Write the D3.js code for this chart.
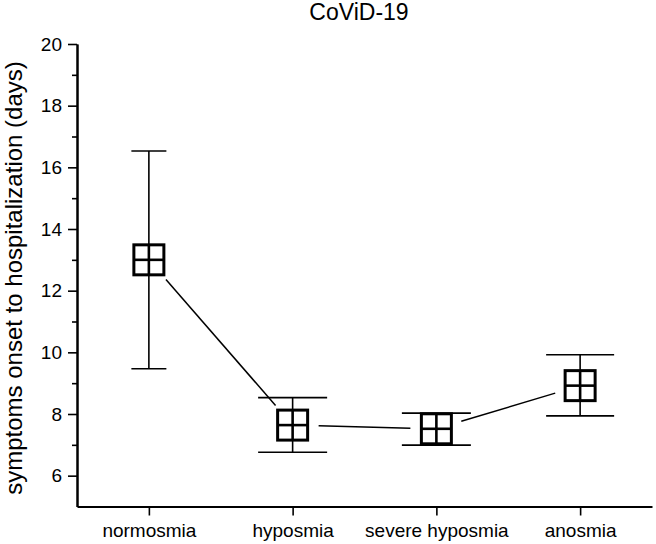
<!DOCTYPE html>
<html lang="en">
	<head>
		<meta charset="utf-8">
		<title>CoViD-19</title>
		<script type="text/javascript" src="https://cdn.jsdelivr.net/npm/d3@7"></script>
		<style type="text/css">
			body { margin: 0; background: white; }
			svg text { font-family: "Liberation Sans", Arial, sans-serif; fill: black; }
		</style>
	</head>
	<body>
		<script type="text/javascript">

			//Data
			var groups = ["normosmia", "hyposmia", "severe hyposmia", "anosmia"];
			var means = [13.0, 7.64, 7.52, 8.92];
			var upper = [16.53, 8.53, 8.03, 9.92];
			var lower = [9.47, 6.76, 6.99, 7.94];
			var yTicks = [6, 8, 10, 12, 14, 16, 18, 20];
			var yMinorTicks = [7, 9, 11, 13, 15, 17, 19];

			//Styles
			var capHalf = [17.5, 34.5, 34.5, 34];  //half width of the error caps
			var box = 30;     //marker side
			var gap = 26;     //line stops this far from the marker centre

			//Width and height
			var w = 656;
			var h = 544;

			var svg = d3.select("body")
						.append("svg")
						.attr("width", w)
						.attr("height", h);

			var xScale = d3.scalePoint()
						   .domain(groups)
						   .range([77, 652])
						   .padding(0.5);

			var yScale = d3.scaleLinear()
						   .domain([5, 20])
						   .range([506.5, 44]);

			//Axes
			var xAxis = d3.axisBottom(xScale).tickSize(9).tickPadding(8).tickSizeOuter(0);
			var yAxis = d3.axisLeft(yScale).tickValues(yTicks).tickSize(9).tickPadding(6).tickSizeOuter(0);
			var yMinor = d3.axisLeft(yScale).tickValues(yMinorTicks).tickSize(5).tickFormat("").tickSizeOuter(0);

			var gx = svg.append("g")
				.attr("transform", "translate(0," + yScale(5) + ")")
				.call(xAxis);
			gx.selectAll("text").style("font-size", "19px");

			var gy = svg.append("g")
				.attr("transform", "translate(77,0)")
				.call(yAxis);
			gy.selectAll("text").style("font-size", "19px");

			svg.append("g")
				.attr("transform", "translate(77,0)")
				.call(yMinor);

			svg.selectAll(".domain").attr("stroke-width", 2);
			svg.selectAll(".tick line").attr("stroke-width", 1.6);

			//Title and axis label
			svg.append("text")
				.attr("x", 359)
				.attr("y", 20)
				.attr("text-anchor", "middle")
				.style("font-size", "23px")
				.text("CoViD-19");

			svg.append("text")
				.attr("transform", "translate(22,278) rotate(-90)")
				.attr("text-anchor", "middle")
				.style("font-size", "24px")
				.text("symptoms onset to hospitalization (days)");

			//Connecting lines, with a gap round each marker
			var segs = d3.range(groups.length - 1).map(function(i) {
				var x1 = xScale(groups[i]), y1 = yScale(means[i]);
				var x2 = xScale(groups[i + 1]), y2 = yScale(means[i + 1]);
				var len = Math.sqrt((x2 - x1) * (x2 - x1) + (y2 - y1) * (y2 - y1));
				var ux = (x2 - x1) / len, uy = (y2 - y1) / len;
				return [x1 + ux * gap, y1 + uy * gap, x2 - ux * gap, y2 - uy * gap];
			});

			svg.selectAll("line.link")
			   .data(segs)
			   .enter()
			   .append("line")
			   .attr("class", "link")
			   .attr("x1", function(d) { return d[0]; })
			   .attr("y1", function(d) { return d[1]; })
			   .attr("x2", function(d) { return d[2]; })
			   .attr("y2", function(d) { return d[3]; })
			   .attr("stroke", "black")
			   .attr("stroke-width", 1.5);

			//Error bars
			var bars = svg.selectAll("g.bar")
			   .data(groups)
			   .enter()
			   .append("g")
			   .attr("class", "bar")
			   .attr("stroke", "black");

			bars.append("line")
			   .attr("x1", function(d) { return xScale(d); })
			   .attr("x2", function(d) { return xScale(d); })
			   .attr("y1", function(d, i) { return yScale(upper[i]); })
			   .attr("y2", function(d, i) { return yScale(lower[i]); })
			   .attr("stroke-width", 1.6);

			bars.append("line")
			   .attr("x1", function(d, i) { return xScale(d) - capHalf[i]; })
			   .attr("x2", function(d, i) { return xScale(d) + capHalf[i]; })
			   .attr("y1", function(d, i) { return yScale(upper[i]); })
			   .attr("y2", function(d, i) { return yScale(upper[i]); })
			   .attr("stroke-width", 1.6);

			bars.append("line")
			   .attr("x1", function(d, i) { return xScale(d) - capHalf[i]; })
			   .attr("x2", function(d, i) { return xScale(d) + capHalf[i]; })
			   .attr("y1", function(d, i) { return yScale(lower[i]); })
			   .attr("y2", function(d, i) { return yScale(lower[i]); })
			   .attr("stroke-width", 1.6);

			//Markers: square with a cross
			bars.append("rect")
			   .attr("x", function(d) { return xScale(d) - box / 2; })
			   .attr("y", function(d, i) { return yScale(means[i]) - box / 2; })
			   .attr("width", box)
			   .attr("height", box)
			   .attr("fill", "white")
			   .attr("stroke-width", 3);

			bars.append("line")
			   .attr("x1", function(d) { return xScale(d); })
			   .attr("x2", function(d) { return xScale(d); })
			   .attr("y1", function(d, i) { return yScale(means[i]) - box / 2; })
			   .attr("y2", function(d, i) { return yScale(means[i]) + box / 2; })
			   .attr("stroke-width", 2.6);

			bars.append("line")
			   .attr("x1", function(d) { return xScale(d) - box / 2; })
			   .attr("x2", function(d) { return xScale(d) + box / 2; })
			   .attr("y1", function(d, i) { return yScale(means[i]); })
			   .attr("y2", function(d, i) { return yScale(means[i]); })
			   .attr("stroke-width", 2.6);

		</script>
	</body>
</html>
